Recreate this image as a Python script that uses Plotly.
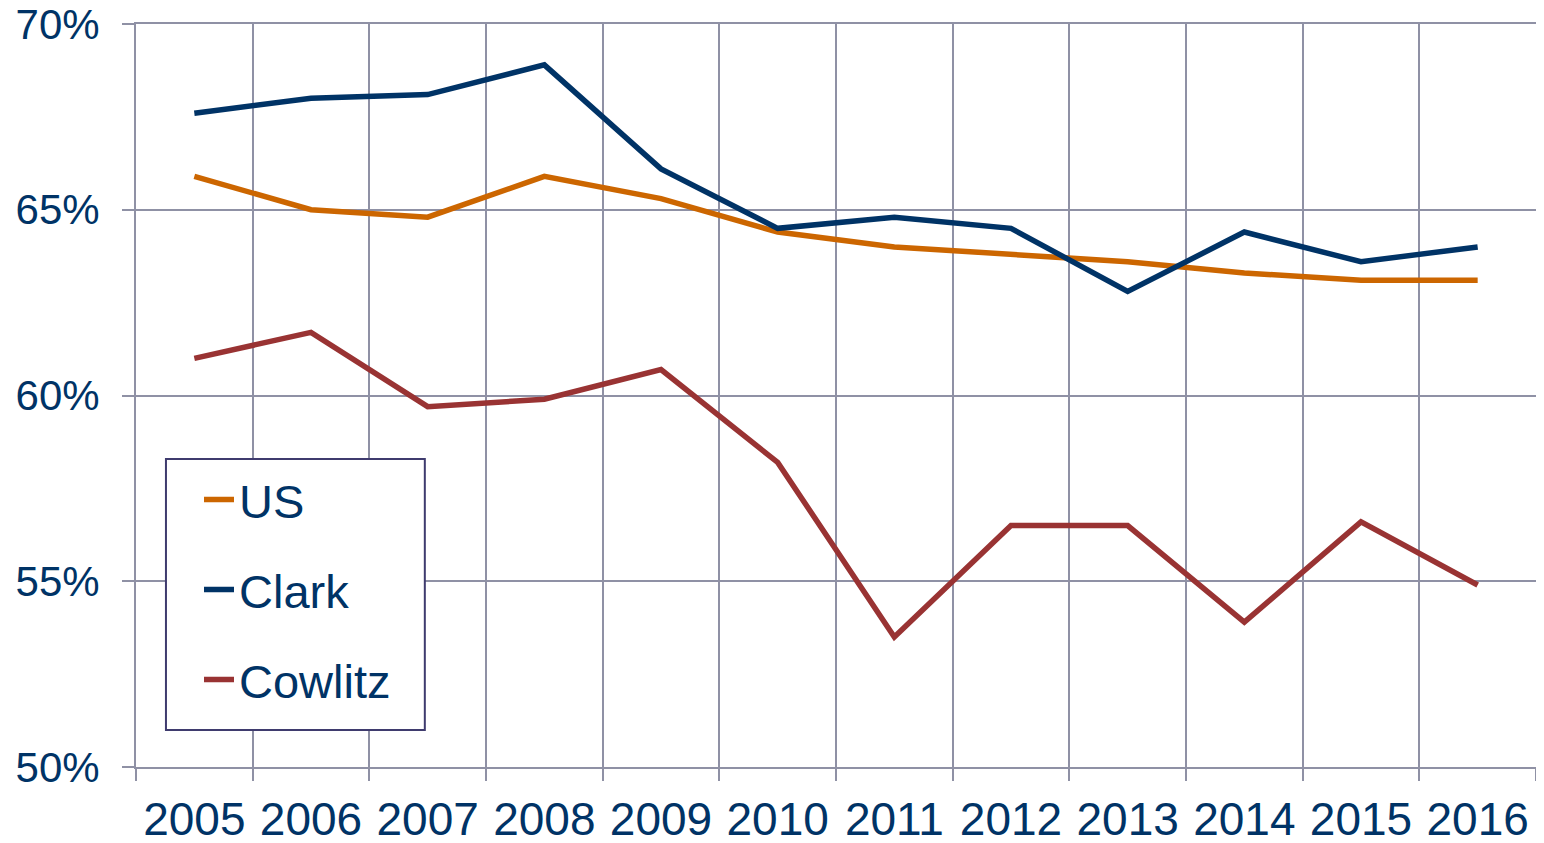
import plotly.graph_objects as go

# Share of population (%)
years = ["2005", "2006", "2007", "2008", "2009", "2010",
         "2011", "2012", "2013", "2014", "2015", "2016"]
us = [65.9, 65.0, 64.8, 65.9, 65.3, 64.4, 64.0, 63.8, 63.6, 63.3, 63.1, 63.1]
clark = [67.6, 68.0, 68.1, 68.9, 66.1, 64.5, 64.8, 64.5, 62.8, 64.4, 63.6, 64.0]
cowlitz = [61.0, 61.7, 59.7, 59.9, 60.7, 58.2, 53.5, 56.5, 56.5, 53.9, 56.6, 54.9]

series = [
    ("US", us, "#CC6600"),
    ("Clark", clark, "#003366"),
    ("Cowlitz", cowlitz, "#993333"),
]

TEXT = "#003366"
GRID = "#8F91A5"

fig = go.Figure()
for name, vals, color in series:
    fig.add_trace(go.Scatter(
        x=years, y=vals, mode="lines", name=name, legendgroup=name,
        line=dict(color=color, width=5.5),
    ))

# legend frame drawn as a shape so its size matches the original
fig.add_shape(type="rect", xref="paper", yref="paper",
              x0=0.0214, x1=0.2063, y0=0.0498, y1=0.4145,
              line=dict(color="#3F3B6E", width=2), fillcolor="white", layer="above")

# page body adds an 8px margin, so the figure is sized to fit inside it
fig.update_layout(
    width=1528, height=827,
    margin=dict(l=128, r=0, t=16, b=68, autoexpand=False),
    paper_bgcolor="white", plot_bgcolor="white",
    font=dict(family="Liberation Sans, Arial, sans-serif", color=TEXT),
    showlegend=True,
    legend=dict(
        x=0.045, y=0.41, xanchor="left", yanchor="top",
        bgcolor="rgba(0,0,0,0)", borderwidth=0,
        font=dict(size=47, color=TEXT), tracegroupgap=26,
    ),
    xaxis=dict(
        type="category", tickson="boundaries", range=[-0.5, 11.5],
        showgrid=True, gridcolor=GRID, gridwidth=2,
        ticks="outside", ticklen=12, tickcolor=GRID, tickwidth=2,
        showline=True, linecolor=GRID, linewidth=2, mirror=True,
        tickfont=dict(size=46, color=TEXT), ticklabelstandoff=11,
        ticklabeloverflow="allow", automargin=False,
    ),
    yaxis=dict(
        range=[50, 70], dtick=5, ticksuffix="%",
        showgrid=True, gridcolor=GRID, gridwidth=2,
        ticks="outside", ticklen=12, tickcolor=GRID, tickwidth=2,
        showline=True, linecolor=GRID, linewidth=2, mirror=True,
        tickfont=dict(size=42, color=TEXT), ticklabelstandoff=14,
        ticklabeloverflow="allow", zeroline=False, automargin=False,
    ),
)

fig.write_html("out.html")
